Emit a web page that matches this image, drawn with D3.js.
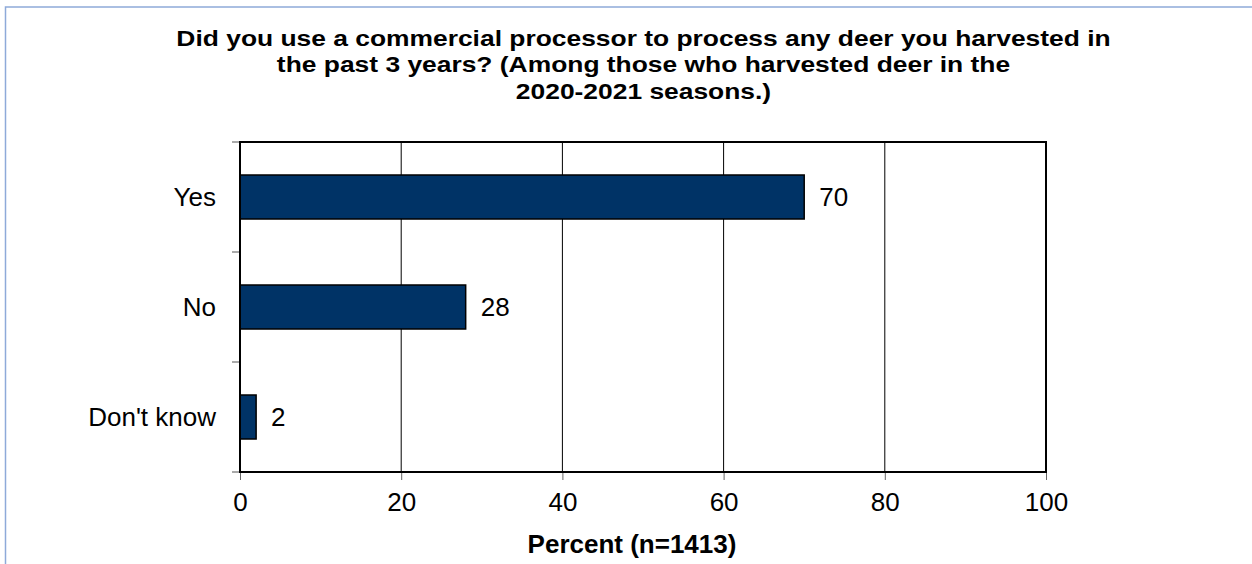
<!DOCTYPE html>
<html>
<head>
<meta charset="utf-8">
<script src="https://cdn.jsdelivr.net/npm/d3@7"></script>
<style>
  html, body { margin: 0; padding: 0; background: #ffffff; }
  svg { display: block; }
  text { font-family: Arial, "Liberation Sans", sans-serif; fill: #000; }
</style>
</head>
<body>
<svg id="chart" width="1252" height="564"></svg>
<script>
// Survey responses (percent of respondents)
const categories = ["Yes", "No", "Don't know"];
const values = [70, 28, 2];
const xTicks = [0, 20, 40, 60, 80, 100];
const titleLines = [
  "Did you use a commercial processor to process any deer you harvested in",
  "the past 3 years? (Among those who harvested deer in the",
  "2020-2021 seasons.)"
];
const axisTitle = "Percent (n=1413)";

const svg = d3.select("#chart");
const W = 1252, H = 564;
const plot = { left: 240, right: 1046, top: 142, bottom: 472 };
const labelSize = 26;

// Outer chart frame
svg.append("rect")
  .attr("x", 5.5).attr("y", 7)
  .attr("width", W + 20).attr("height", H + 20)
  .attr("fill", "#fff")
  .attr("stroke", "#8eaad9")
  .attr("stroke-width", 1.5);

// Title: a slightly wide bold face, three centred lines
const title = svg.append("text")
  .attr("transform", "translate(643.5,0) scale(1.158,1)")
  .attr("text-anchor", "middle")
  .attr("font-weight", "bold")
  .attr("font-size", 22.8);
titleLines.forEach((line, i) => {
  title.append("tspan")
    .attr("x", 0)
    .attr("y", 46 + i * 26.5)
    .text(line);
});

const x = d3.scaleLinear().domain([0, 100]).range([plot.left, plot.right]);
const y = d3.scaleBand().domain(categories).range([plot.top, plot.bottom]).paddingInner(0.6).paddingOuter(0.3);

// Vertical gridlines
svg.append("g")
  .selectAll("line")
  .data(xTicks.filter(t => t > 0 && t < 100))
  .join("line")
  .attr("x1", d => x(d)).attr("x2", d => x(d))
  .attr("y1", plot.top).attr("y2", plot.bottom)
  .attr("stroke", "#000")
  .attr("stroke-width", 1);

// X axis ticks and labels
const xAxis = svg.append("g")
  .attr("transform", `translate(0,${plot.bottom})`)
  .call(d3.axisBottom(x).tickValues(xTicks).tickSize(8).tickPadding(13).tickFormat(d3.format("d")));
xAxis.select(".domain").remove();
xAxis.selectAll(".tick line").attr("stroke", "#666").attr("stroke-width", 1);
xAxis.selectAll(".tick text").attr("font-size", labelSize).attr("font-family", "Arial, 'Liberation Sans', sans-serif");

// Y axis tick marks at band boundaries
const bandEdges = d3.range(categories.length + 1).map(i => plot.top + i * (plot.bottom - plot.top) / categories.length);
svg.append("g")
  .selectAll("line")
  .data(bandEdges)
  .join("line")
  .attr("x1", plot.left - 8).attr("x2", plot.left)
  .attr("y1", d => d).attr("y2", d => d)
  .attr("stroke", "#555")
  .attr("stroke-width", 1);

// Category labels
svg.append("g")
  .selectAll("text")
  .data(categories)
  .join("text")
  .attr("x", 216)
  .attr("y", d => y(d) + y.bandwidth() / 2)
  .attr("dy", "0.35em")
  .attr("text-anchor", "end")
  .attr("font-size", labelSize)
  .text(d => d);

// Bars
svg.append("g")
  .selectAll("rect")
  .data(values)
  .join("rect")
  .attr("x", x(0))
  .attr("y", (d, i) => y(categories[i]))
  .attr("width", d => x(d) - x(0))
  .attr("height", y.bandwidth())
  .attr("fill", "#003366")
  .attr("stroke", "#000")
  .attr("stroke-width", 1.5);

// Value labels
svg.append("g")
  .selectAll("text")
  .data(values)
  .join("text")
  .attr("x", d => x(d) + 15)
  .attr("y", (d, i) => y(categories[i]) + y.bandwidth() / 2)
  .attr("dy", "0.35em")
  .attr("font-size", labelSize)
  .text(d => d);

// Plot frame
svg.append("rect")
  .attr("x", plot.left).attr("y", plot.top)
  .attr("width", plot.right - plot.left)
  .attr("height", plot.bottom - plot.top)
  .attr("fill", "none")
  .attr("stroke", "#000")
  .attr("stroke-width", 2);

// Axis title
svg.append("text")
  .attr("x", 632)
  .attr("y", 553)
  .attr("text-anchor", "middle")
  .attr("font-weight", "bold")
  .attr("font-size", 26)
  .text(axisTitle);
</script>
</body>
</html>
